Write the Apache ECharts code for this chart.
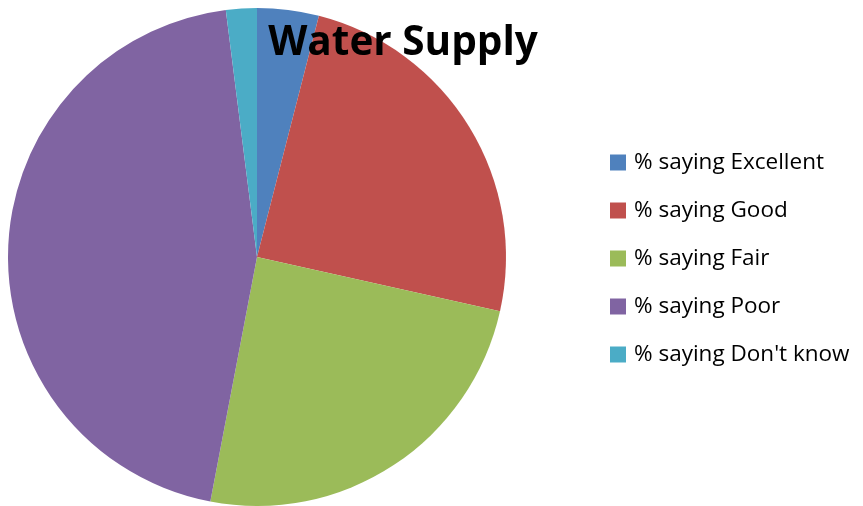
<!DOCTYPE html>
<html>
<head>
<meta charset="utf-8">
<script src="https://cdn.jsdelivr.net/npm/echarts@6/dist/echarts.min.js"></script>
<style>html,body{margin:0;padding:0;background:#fff}#c{width:863px;height:506px}</style>
</head>
<body>
<div id="c"></div>
<script>
var categories = ['% saying Excellent', '% saying Good', '% saying Fair', '% saying Poor', "% saying Don't know"];
var values = [4, 24.5, 24.5, 45, 2];
var colors = ['#4F81BD', '#C0504D', '#9BBB59', '#8064A2', '#4BACC6'];

var chart = echarts.init(document.getElementById('c'), null, {renderer: 'canvas'});
chart.setOption({
  animation: false,
  backgroundColor: '#fff',
  color: colors,
  title: {
    text: 'Water Supply',
    left: 398, top: 18,
    textAlign: 'center',
    textStyle: {fontFamily: 'Open Sans', fontWeight: 'bold', fontSize: 40.5, color: '#000'}
  },
  legend: {
    orient: 'vertical',
    left: 605, top: 146,
    itemWidth: 16, itemHeight: 16, itemGap: 25,
    icon: 'rect',
    data: categories,
    textStyle: {fontFamily: 'Open Sans', fontSize: 22.5, color: '#000', padding: [0,0,0,3]}
  },
  series: [{
    type: 'pie',
    center: [257, 257],
    radius: [0, 249],
    startAngle: 90,
    clockwise: true,
    label: {show: false},
    labelLine: {show: false},
    emphasis: {disabled: true},
    itemStyle: {borderWidth: 0},
    data: categories.map(function (n, i) { return {name: n, value: values[i]}; })
  }]
});
</script>
</body>
</html>
